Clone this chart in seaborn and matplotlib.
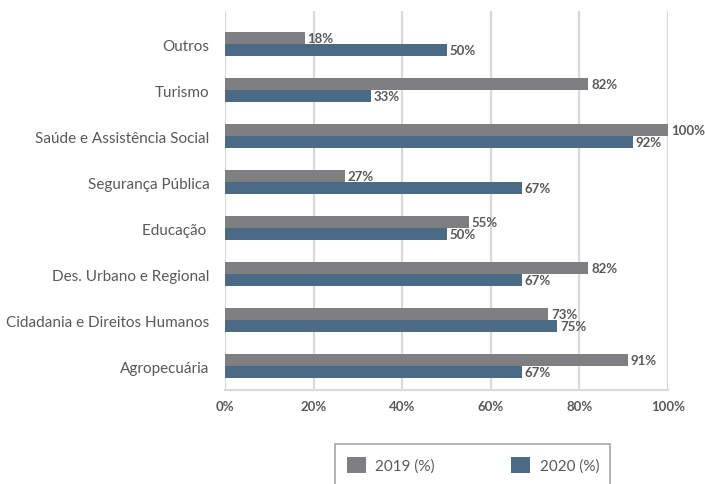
import matplotlib
matplotlib.use("Agg")
import matplotlib.pyplot as plt
from matplotlib.patches import Rectangle, Patch
import seaborn as sns
import pandas as pd

categories = [
    "Outros",
    "Turismo",
    "Saúde e Assistência Social",
    "Segurança Pública",
    "Educação ",
    "Des. Urbano e Regional",
    "Cidadania e Direitos Humanos",
    "Agropecuária",
]
values_2019 = [18, 82, 100, 27, 55, 82, 73, 91]
values_2020 = [50, 33, 92, 67, 50, 67, 75, 67]
series_labels = ["2019 (%)", "2020 (%)"]
x_ticks = [0, 20, 40, 60, 80, 100]
x_tick_labels = ["0%", "20%", "40%", "60%", "80%", "100%"]

colors = ["#7f7f82", "#4a6a86"]
text_color = "#595959"
grid_color = "#d9d9d9"

sns.set_theme(style="white")
plt.rcParams["font.family"] = ["Lato", "DejaVu Sans"]

df = pd.DataFrame({
    "categoria": categories * 2,
    "valor": values_2019 + values_2020,
    "serie": [series_labels[0]] * len(categories) + [series_labels[1]] * len(categories),
})

fig = plt.figure(figsize=(7.05, 4.85), dpi=100)
ax = fig.add_axes([225 / 705, 1 - 391 / 485, (668 - 225) / 705, (391 - 12) / 485])

sns.barplot(
    data=df, y="categoria", x="valor", hue="serie", order=categories,
    hue_order=series_labels, palette=colors, orient="h", width=0.52,
    gap=0, saturation=1, linewidth=0, legend=False, ax=ax,
)

for container in ax.containers:
    ax.bar_label(container, fmt="%d%%", padding=2, fontsize=9.5,
                 fontweight="bold", color=text_color)

ax.set_xlim(0, 100)
ax.set_ylim(len(categories) - 1 + 0.52, -0.72)
ax.set_xticks(x_ticks)
ax.set_xticklabels(x_tick_labels, fontsize=9.5, fontweight="bold", color=text_color)
ax.tick_params(axis="x", length=0, pad=7)
ax.tick_params(axis="y", length=0, pad=11, labelsize=11, labelcolor=text_color)
ax.set_xlabel("")
ax.set_ylabel("")

ax.xaxis.grid(True, color=grid_color, linewidth=1.6)
ax.yaxis.grid(False)
ax.set_axisbelow(True)
for side in ["top", "right", "left"]:
    ax.spines[side].set_visible(False)
ax.spines["bottom"].set_color(grid_color)
ax.spines["bottom"].set_linewidth(1.6)

# legend box (extends past the lower figure edge)
fig.patches.append(Rectangle((335 / 705, -0.05), (610 - 335) / 705, (485 - 445) / 485 + 0.05,
                             transform=fig.transFigure, fill=False,
                             edgecolor="#a6a6a6", linewidth=1.2))
handles = [Patch(facecolor=c, edgecolor="none") for c in colors]
fig.legend(handles, series_labels, loc="center left",
           bbox_to_anchor=(347 / 705, 1 - 466 / 485), ncol=2, frameon=False,
           fontsize=11, labelcolor=text_color, borderpad=0, borderaxespad=0,
           handlelength=1.25, handleheight=1.2, handletextpad=0.6,
           columnspacing=5.0)

fig.savefig("out.png", dpi=100)
